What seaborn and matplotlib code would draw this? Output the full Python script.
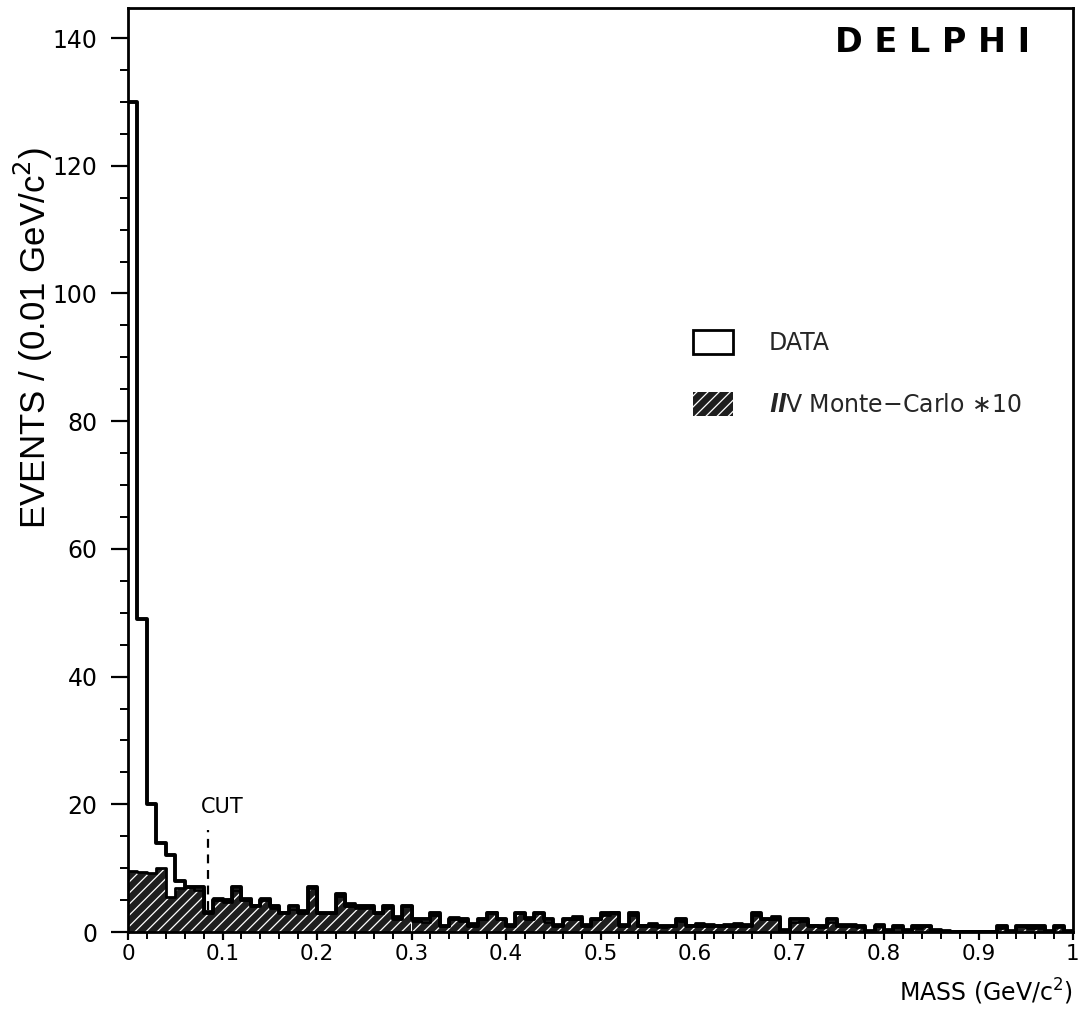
import numpy as np
import pandas as pd
import matplotlib
matplotlib.use("Agg")
import matplotlib.pyplot as plt
from matplotlib.patches import Patch
from matplotlib.ticker import MultipleLocator
import seaborn as sns

# ---------------- data ----------------
bin_width = 0.01
n_bins = 100

data_counts = [130, 49, 20, 14, 12, 8, 7, 7, 3, 5,
               5, 7, 5, 4, 5, 4, 3, 4, 3, 7,
               3, 3, 6, 4, 4, 4, 3, 4, 2, 4,
               2, 2, 3, 1, 2, 2, 1, 2, 3, 2,
               1, 3, 2, 3, 2, 1, 2, 2, 1, 2,
               3, 3, 1, 3, 1, 1, 1, 1, 2, 1,
               1, 1, 1, 1, 1, 1, 3, 2, 2, 0,
               2, 2, 1, 1, 2, 1, 1, 1, 0, 1,
               0, 1, 0, 1, 1, 0, 0, 0, 0, 0,
               0, 0, 1, 0, 1, 1, 1, 0, 1, 0]

mc_times10 = [9.5, 9.4, 9.2, 10.1, 5.5, 6.9, 7.1, 6.6, 3.3, 5.4,
              4.7, 6.6, 5.4, 4.3, 5.4, 3.8, 3.2, 3.6, 3.4, 6.9,
              3.0, 2.9, 5.6, 4.5, 3.8, 3.7, 2.9, 3.7, 2.5, 4.0,
              1.8, 1.6, 2.7, 0.95, 2.4, 1.7, 1.4, 2.0, 3.1, 2.0,
              1.3, 2.9, 2.4, 2.9, 1.6, 1.3, 2.0, 2.5, 1.3, 2.0,
              2.7, 3.1, 1.3, 2.7, 1.1, 1.4, 0.8, 0.9, 1.7, 1.1,
              1.4, 1.2, 1.1, 1.3, 1.4, 1.3, 2.6, 2.1, 2.5, 0.5,
              1.6, 1.8, 1.1, 0.8, 1.6, 1.3, 1.3, 0.8, 0.3, 1.3,
              0.5, 0.8, 0.5, 0.6, 0.95, 0.4, 0.3, 0.2, 0.2, 0.2,
              0.2, 0.2, 0.6, 0.3, 0.95, 0.6, 0.6, 0.3, 0.8, 0.3]

x_major_ticks = [0, 0.1, 0.2, 0.3, 0.4, 0.5, 0.6, 0.7, 0.8, 0.9, 1.0]
x_tick_labels = ["0", "0.1", "0.2", "0.3", "0.4", "0.5", "0.6", "0.7", "0.8", "0.9", "1"]
y_major_ticks = [0, 20, 40, 60, 80, 100, 120, 140]

cut_position = 0.085
cut_line_range = (3.5, 16)

centers = (np.arange(n_bins) + 0.5) * bin_width
df = pd.DataFrame({"mass": centers, "data": data_counts, "mc": mc_times10})
hist_kws = dict(bins=n_bins, binrange=(0, n_bins * bin_width), stat="count")

# ---------------- style ----------------
sns.set_theme(style="ticks")
plt.rcParams["font.family"] = ["DejaVu Sans"]
plt.rcParams["hatch.linewidth"] = 0.9

fig = plt.figure(figsize=(10.79, 10.32), dpi=100)
ax = fig.add_axes([128 / 1079, 1 - 932 / 1032, (1073 - 128) / 1079, (932 - 8) / 1032])

fill_color = "#1e1e1e"
# MC (hatched)
sns.histplot(data=df, x="mass", weights="mc", element="bars",
             color=fill_color, edgecolor="white", linewidth=0,
             hatch="///", alpha=1, ax=ax, **hist_kws)
sns.histplot(data=df, x="mass", weights="mc", element="step",
             fill=False, color="black", linewidth=2.0, ax=ax, **hist_kws)
# DATA (open step)
sns.histplot(data=df, x="mass", weights="data", element="step",
             fill=False, color="black", linewidth=2.8, ax=ax, **hist_kws)

ax.set_xlim(0, 1)
ax.set_ylim(0, 144.7)
ax.set_xticks(x_major_ticks, labels=x_tick_labels)
ax.set_yticks(y_major_ticks)
ax.xaxis.set_minor_locator(MultipleLocator(0.02))
ax.yaxis.set_minor_locator(MultipleLocator(5))
ax.tick_params(axis="y", which="major", direction="out", length=12, width=1.6,
               labelsize=17, color="black", labelcolor="black", pad=10)
ax.tick_params(axis="y", which="minor", direction="out", length=6, width=1.4, color="black")
ax.tick_params(axis="x", which="major", direction="out", length=6, width=1.6,
               labelsize=15.5, color="black", labelcolor="black", pad=3)
ax.tick_params(axis="x", which="minor", direction="out", length=5, width=1.4, color="black")
ax.tick_params(top=False, right=False)
for s in ax.spines.values():
    s.set_visible(True)
    s.set_linewidth(2.0)
    s.set_color("black")

ax.set_xlabel("MASS (GeV/c$^{2}$)", fontsize=17, color="black")
ax.xaxis.set_label_coords(1.0, -0.048)
ax.xaxis.label.set_horizontalalignment("right")
ax.set_ylabel("EVENTS / (0.01 GeV/c$^{2}$)", fontsize=25, color="black",
              family=["Liberation Sans", "DejaVu Sans"])
ax.yaxis.set_label_coords(-0.077, 0.643)

# CUT marker
ax.vlines(cut_position, *cut_line_range, colors="black", linestyles=(0, (4, 3)), linewidth=1.6)
ax.text(cut_position - 0.008, 18, "CUT", fontsize=15, ha="left", va="bottom", color="black")

# DELPHI label
ax.text(0.955, 139.3, "D E L P H I", fontsize=24, fontweight="black", ha="right",
        va="center", color="black")

# legend
handles = [Patch(facecolor="white", edgecolor="black", linewidth=2.0),
           Patch(facecolor=fill_color, edgecolor="white", linewidth=0, hatch="///")]
labels = ["DATA", r"$\mathbfit{ll}$V Monte$-$Carlo $\ast$10"]
leg = ax.legend(handles, labels, loc="upper left", bbox_to_anchor=(0.598, 0.652),
                frameon=False, fontsize=17, handlelength=1.7, handleheight=1.19,
                handletextpad=1.5, labelspacing=1.6, borderpad=0, borderaxespad=0)

fig.savefig("out.png", dpi=100, facecolor="white")
